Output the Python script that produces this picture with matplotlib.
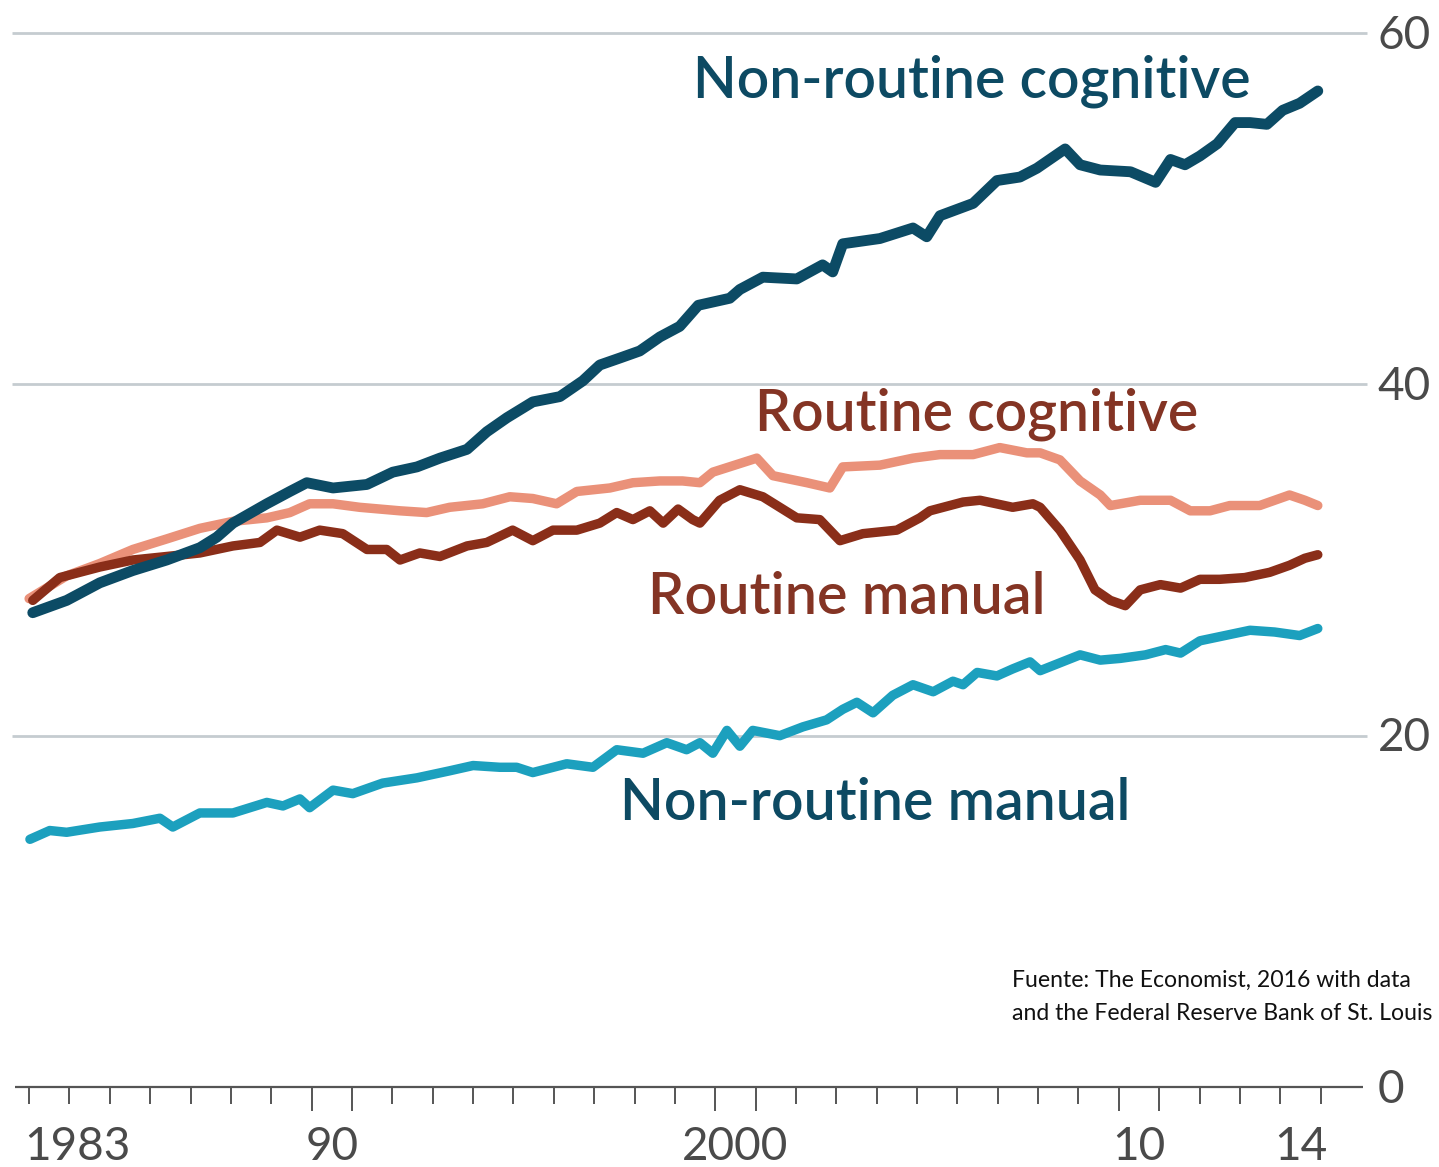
import matplotlib
matplotlib.use('Agg')
import matplotlib.pyplot as plt

# ---------------- data ----------------
nrc_years = [1983.09, 1983.93, 1984.75, 1985.57, 1986.41, 1987.23, 1987.65, 1988.05, 1988.89,
             1989.46, 1989.88, 1990.53, 1991.37, 1992.01, 1992.61, 1993.18, 1993.85, 1994.34,
             1994.84, 1995.48, 1996.15, 1996.72, 1997.14, 1997.64, 1998.13, 1998.63, 1999.12,
             1999.58, 2000.36, 2000.61, 2001.18, 2002.02, 2002.66, 2002.91, 2003.16, 2004.08,
             2004.90, 2005.24, 2005.57, 2006.39, 2006.98, 2007.55, 2007.97, 2008.54, 2008.67,
             2009.04, 2009.54, 2010.29, 2010.91, 2011.28, 2011.64, 2012.01, 2012.44, 2012.88,
             2013.25, 2013.67, 2014.06, 2014.48, 2014.93]
nrc_vals = [27.0, 27.7, 28.7, 29.4, 30.0, 30.7, 31.3, 32.1, 33.2,
            33.9, 34.4, 34.1, 34.3, 35.0, 35.3, 35.8, 36.3, 37.3,
            38.1, 39.0, 39.3, 40.2, 41.1, 41.5, 41.9, 42.7, 43.3,
            44.5, 44.9, 45.4, 46.1, 46.0, 46.8, 46.4, 48.0, 48.3,
            48.9, 48.4, 49.6, 50.3, 51.6, 51.8, 52.3, 53.2, 53.4,
            52.5, 52.2, 52.1, 51.5, 52.8, 52.5, 53.0, 53.7, 54.9,
            54.9, 54.8, 55.6, 56.0, 56.7]

rc_years = [1983.0, 1983.93, 1984.75, 1985.57, 1986.41, 1987.23, 1988.05, 1988.89, 1989.46,
            1989.95, 1990.53, 1991.19, 1992.19, 1992.85, 1993.42, 1994.24, 1994.91, 1995.48,
            1996.07, 1996.57, 1997.39, 1997.96, 1998.63, 1999.19, 1999.62, 1999.94, 2001.03,
            2001.43, 2002.27, 2002.84, 2003.16, 2004.08, 2004.90, 2005.57, 2006.39, 2007.05,
            2007.72, 2008.05, 2008.54, 2009.04, 2009.54, 2009.79, 2010.53, 2011.28, 2011.77,
            2012.26, 2012.75, 2013.49, 2014.23, 2014.61, 2014.93]
rc_vals = [27.8, 29.1, 29.8, 30.6, 31.2, 31.8, 32.2, 32.4, 32.7,
           33.2, 33.2, 33.0, 32.8, 32.7, 33.0, 33.2, 33.6, 33.5,
           33.2, 33.9, 34.1, 34.4, 34.5, 34.5, 34.4, 35.0, 35.8,
           34.8, 34.4, 34.1, 35.3, 35.4, 35.8, 36.0, 36.0, 36.4,
           36.1, 36.1, 35.7, 34.5, 33.7, 33.1, 33.4, 33.4, 32.8,
           32.8, 33.1, 33.1, 33.7, 33.4, 33.1]

rm_years = [1983.09, 1983.76, 1984.75, 1985.57, 1986.41, 1987.23, 1988.05, 1988.72, 1989.14,
            1989.71, 1990.20, 1990.77, 1991.37, 1991.86, 1992.19, 1992.68, 1993.18, 1993.85,
            1994.34, 1994.98, 1995.48, 1995.98, 1996.57, 1997.14, 1997.56, 1997.96, 1998.38,
            1998.71, 1999.08, 1999.44, 1999.62, 2000.11, 2000.61, 2001.18, 2002.02, 2002.59,
            2003.09, 2003.66, 2004.50, 2005.07, 2005.32, 2006.14, 2006.56, 2007.37, 2007.87,
            2008.05, 2008.54, 2009.04, 2009.41, 2009.79, 2010.16, 2010.53, 2011.03, 2011.53,
            2012.01, 2012.50, 2013.12, 2013.74, 2014.23, 2014.61, 2014.93]
rm_vals = [27.7, 29.0, 29.6, 30.0, 30.2, 30.4, 30.8, 31.0, 31.7,
           31.3, 31.7, 31.5, 30.6, 30.6, 30.0, 30.4, 30.2, 30.8,
           31.0, 31.7, 31.1, 31.7, 31.7, 32.1, 32.7, 32.3, 32.8,
           32.1, 32.9, 32.3, 32.1, 33.4, 34.0, 33.6, 32.4, 32.3,
           31.1, 31.5, 31.7, 32.4, 32.8, 33.3, 33.4, 33.0, 33.2,
           33.0, 31.7, 30.0, 28.3, 27.7, 27.4, 28.3, 28.6, 28.4,
           28.9, 28.9, 29.0, 29.3, 29.7, 30.1, 30.3]

nrm_years = [1983.02, 1983.51, 1983.93, 1984.75, 1985.57, 1986.24, 1986.56, 1987.23, 1988.05,
             1988.89, 1989.29, 1989.71, 1989.95, 1990.53, 1991.02, 1991.76, 1992.61, 1993.42,
             1994.00, 1994.66, 1995.08, 1995.48, 1996.32, 1996.97, 1997.56, 1998.21, 1998.80,
             1999.29, 1999.62, 1999.94, 2000.29, 2000.61, 2000.93, 2001.60, 2002.17, 2002.76,
             2003.16, 2003.51, 2003.91, 2004.40, 2004.90, 2005.40, 2005.89, 2006.14, 2006.49,
             2006.98, 2007.37, 2007.80, 2008.05, 2009.04, 2009.54, 2010.04, 2010.66, 2011.16,
             2011.53, 2012.01, 2012.63, 2013.25, 2013.86, 2014.48, 2014.93]
nrm_vals = [14.1, 14.6, 14.5, 14.8, 15.0, 15.3, 14.8, 15.6, 15.6,
            16.2, 16.0, 16.4, 15.9, 16.9, 16.7, 17.3, 17.6, 18.0,
            18.3, 18.2, 18.2, 17.9, 18.4, 18.2, 19.2, 19.0, 19.6,
            19.2, 19.6, 19.0, 20.3, 19.4, 20.3, 20.0, 20.5, 20.9,
            21.5, 21.9, 21.3, 22.3, 22.9, 22.5, 23.1, 22.9, 23.6,
            23.4, 23.8, 24.2, 23.7, 24.6, 24.3, 24.4, 24.6, 24.9,
            24.7, 25.4, 25.7, 26.0, 25.9, 25.7, 26.1]

series_labels = ["Non-routine cognitive", "Routine cognitive", "Routine manual", "Non-routine manual"]
y_tick_values = [0, 20, 40, 60]
x_tick_labels = ["1983", "90", "2000", "10", "14"]
x_label_years = [1983, 1990, 2000, 2010, 2014]
source_lines = ["Fuente: The Economist, 2016 with data",
                "and the Federal Reserve Bank of St. Louis"]

# ---------------- styling ----------------
C_NRC = "#0c4b65"
C_RC = "#ea9179"
C_RM = "#8a2e19"
C_NRM = "#1ca0be"
C_LBL_TEAL = "#0d4a63"
C_LBL_BROWN = "#843424"
C_AXTXT = "#4a4a4a"

W, H = 1439, 1167
fig = plt.figure(figsize=(W / 100, H / 100), dpi=100)
ax = fig.add_axes([15 / W, 1 - 1087 / H, (1363 - 15) / W, (1087 - 33) / H])
x0, x1 = 1982.65, 2016.05
ax.set_xlim(x0, x1)
ax.set_ylim(0, 60)
for s in ax.spines.values():
    s.set_visible(False)

# gridlines
for v in y_tick_values[1:]:
    ax.plot([1982.58, 2016.15], [v, v], color="#c5ccd0", lw=2.0, solid_capstyle="butt",
            clip_on=False, zorder=1)
ax.plot([x0, x1], [0, 0], color="#555555", lw=1.6, solid_capstyle="butt", clip_on=False, zorder=2)

# ticks: every year boundary; long ones around labelled decades
all_ticks = list(range(1983, 2016))
long_ticks = [1990, 1991, 2000, 2001, 2010, 2011]
ax.set_xticks(long_ticks)
ax.set_xticks([t for t in all_ticks if t not in long_ticks], minor=True)
ax.tick_params(axis="x", which="major", length=17, width=1.4, color="#555555", labelbottom=False)
ax.tick_params(axis="x", which="minor", length=12, width=1.4, color="#555555")
ax.set_yticks([])

# series
lw = 6.8
ax.plot(rc_years, rc_vals, color=C_RC, lw=lw, solid_joinstyle="round", solid_capstyle="round", zorder=3)
ax.plot(rm_years, rm_vals, color=C_RM, lw=lw, solid_joinstyle="round", solid_capstyle="round", zorder=4)
ax.plot(nrm_years, nrm_vals, color=C_NRM, lw=lw, solid_joinstyle="round", solid_capstyle="round", zorder=4)
ax.plot(nrc_years, nrc_vals, color=C_NRC, lw=7.8, solid_joinstyle="round", solid_capstyle="round", zorder=5)

FONT = ["Lato", "DejaVu Sans"]
AXFS = 33

# x labels
for yr, lab in zip(x_label_years, x_tick_labels):
    if lab == "1983":
        ax.text(1982.88, -3.4, lab, ha="left", va="center", fontsize=AXFS, color=C_AXTXT,
                family=FONT)
    else:
        ax.text(yr + 0.5, -3.4, lab, ha="center", va="center", fontsize=AXFS, color=C_AXTXT,
                family=FONT)

# y labels at right
for v in y_tick_values:
    ax.text(2016.42, v - 0.15, str(v), ha="left", va="center", fontsize=AXFS, color=C_AXTXT,
            family=FONT, clip_on=False)

# series labels
fig.canvas.draw()
renderer = fig.canvas.get_renderer()


def fit_text(t, target_px, fs0):
    w = t.get_window_extent(renderer).width
    t.set_fontsize(fs0 * target_px / w)
    return t


def label(x, y, s, target_px, color):
    t = ax.text(x, y, s, ha="left", va="baseline", fontsize=40, color=color, family=FONT,
                fontweight="semibold")
    return fit_text(t, target_px, 40)


label(1999.44, 56.3, series_labels[0], 557, C_LBL_TEAL)
label(2000.98, 37.4, series_labels[1], 443, C_LBL_BROWN)
label(1998.33, 26.9, series_labels[2], 397, C_LBL_BROWN)
label(1997.64, 15.2, series_labels[3], 510, C_LBL_TEAL)

# source
s1 = fig.text(1012 / W, 1 - 980 / H, source_lines[0], ha="left", va="center", fontsize=18,
              color="#111111", family=FONT)
s2 = fig.text(1012 / W, 1 - 1013 / H, source_lines[1], ha="left", va="center", fontsize=18,
              color="#111111", family=FONT)
w2 = s2.get_window_extent(renderer).width
fs_src = 18 * 420 / w2
s1.set_fontsize(fs_src)
s2.set_fontsize(fs_src)

fig.savefig("out.png", dpi=100, facecolor="white")
